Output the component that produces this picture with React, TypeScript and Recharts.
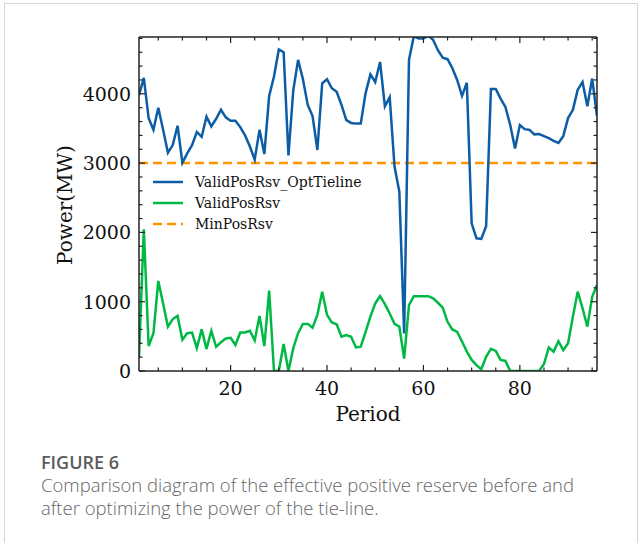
import { Line, LineChart, ReferenceLine, XAxis, YAxis } from "recharts";

// 15-minute periods of one day
const periods = Array.from({ length: 96 }, (_, i) => i + 1);

// effective positive reserve after optimizing the tie-line power (MW)
const validPosRsvOptTieline = [
  3980, 4230, 3650, 3480, 3800, 3480, 3150, 3260, 3540, 3005,
  3140, 3260, 3450, 3380, 3670, 3530, 3640, 3770, 3660, 3610,
  3610, 3520, 3400, 3240, 3050, 3480, 3130, 3970, 4250, 4640,
  4600, 3110, 4050, 4490, 4210, 3840, 3680, 3190, 4150, 4210,
  4080, 4030, 3840, 3620, 3580, 3570, 3570, 4010, 4280, 4170,
  4460, 3820, 3950, 2950, 2590, 540, 4490, 4830, 4800, 4800,
  4840, 4780, 4630, 4520, 4500, 4370, 4200, 3970, 4160, 2130,
  1915, 1905, 2090, 4070, 4070, 3930, 3810, 3550, 3210, 3550,
  3490, 3480, 3415, 3420, 3390, 3360, 3320, 3290, 3390, 3650,
  3770, 4060, 4170, 3820, 4220, 3680,
];

// effective positive reserve before optimization (MW)
const validPosRsv = [
  200, 2045, 360, 545, 1300, 975, 640, 750, 795, 450,
  545, 555, 330, 600, 320, 580, 350, 415, 470, 480,
  375, 555, 555, 580, 440, 795, 360, 1160, 0, 0,
  390, 0, 330, 545, 680, 680, 625, 810, 1145, 810,
  700, 675, 495, 520, 495, 340, 350, 565, 785, 975,
  1080, 965, 830, 680, 640, 180, 950, 1080, 1080, 1080,
  1080, 1050, 985, 915, 710, 600, 565, 425, 280, 160,
  85, 25, 205, 320, 290, 160, 145, 0, 0, 0,
  0, 0, 0, 0, 100, 340, 280, 430, 300, 400,
  785, 1145, 905, 640, 1070, 1240,
];

const MIN_POS_RSV = 3000;

const xTicks = [5, 10, 15, 20, 25, 30, 35, 40, 45, 50, 55, 60, 65, 70, 75, 80, 85, 90, 95];
const yTicks = Array.from({ length: 25 }, (_, i) => i * 200);

const data = periods.map((p, i) => ({
  period: p,
  opt: validPosRsvOptTieline[i],
  valid: validPosRsv[i],
}));

const BLUE = "#0C5DA5";
const GREEN = "#00B945";
const ORANGE = "#FF9500";
const AXIS = "#222";
const SERIF = "'DejaVu Serif', serif";

const legendRows = [
  { name: "ValidPosRsv_OptTieline", color: BLUE, dashed: false },
  { name: "ValidPosRsv", color: GREEN, dashed: false },
  { name: "MinPosRsv", color: ORANGE, dashed: true },
];

type Side = "bottom" | "top" | "left" | "right";

// inward major/minor ticks, labels only on bottom and left
function makeTick(side: Side, isMajor: (v: number) => boolean) {
  return (props: any) => {
    const { x, y, payload } = props;
    const v = payload.value as number;
    const major = isMajor(v);
    const len = major ? 6 : 3.5;
    let x2 = x;
    let y2 = y;
    if (side === "bottom") y2 = y - len;
    if (side === "top") y2 = y + len;
    if (side === "left") x2 = x + len;
    if (side === "right") x2 = x - len;
    return (
      <g>
        <line x1={x} y1={y} x2={x2} y2={y2} stroke={AXIS} strokeWidth={1.2} />
        {major && side === "bottom" && (
          <text x={x} y={y + 24} textAnchor="middle" fontSize={19} fontFamily={SERIF} fill="#111">
            {v}
          </text>
        )}
        {major && side === "left" && (
          <text x={x - 8} y={y} dy="0.36em" textAnchor="end" fontSize={19} fontFamily={SERIF} fill="#111">
            {v}
          </text>
        )}
      </g>
    );
  };
}

const xMajor = (v: number) => v % 20 === 0;
const yMajor = (v: number) => v % 1000 === 0;

const axisCommon = {
  type: "number" as const,
  interval: 0 as const,
  tickSize: 0,
  tickMargin: 0,
  stroke: AXIS,
  strokeWidth: 1.5,
  allowDataOverflow: true,
};

export default function App() {
  return (
    <div
      style={{
        position: "absolute",
        left: 0,
        top: 0,
        width: 641,
        height: 543,
        background: "#fff",
        overflow: "hidden",
      }}
    >
      <div
        style={{
          position: "absolute",
          left: 4,
          top: 3,
          width: 632,
          height: 560,
          border: "1px solid #d6d6d6",
        }}
      />
      <LineChart
        width={641}
        height={543}
        data={data}
        margin={{ top: 36, left: 138, right: 43, bottom: 171 }}
      >
        <XAxis
          {...axisCommon}
          xAxisId="b"
          dataKey="period"
          domain={[1, 96]}
          ticks={xTicks}
          height={1}
          tick={makeTick("bottom", xMajor)}
        />
        <XAxis
          {...axisCommon}
          xAxisId="t"
          orientation="top"
          dataKey="period"
          domain={[1, 96]}
          ticks={xTicks}
          height={1}
          tick={makeTick("top", xMajor)}
        />
        <YAxis
          {...axisCommon}
          yAxisId="l"
          domain={[0, 4820]}
          ticks={yTicks}
          width={1}
          tick={makeTick("left", yMajor)}
        />
        <YAxis
          {...axisCommon}
          yAxisId="r"
          orientation="right"
          domain={[0, 4820]}
          ticks={yTicks}
          width={1}
          tick={makeTick("right", yMajor)}
        />
        <ReferenceLine
          xAxisId="b"
          yAxisId="l"
          y={MIN_POS_RSV}
          stroke={ORANGE}
          strokeWidth={2.5}
          strokeDasharray="9 5"
        />
        <Line
          xAxisId="b"
          yAxisId="l"
          dataKey="opt"
          stroke={BLUE}
          strokeWidth={2.5}
          dot={false}
          isAnimationActive={false}
        />
        <Line
          xAxisId="b"
          yAxisId="l"
          dataKey="valid"
          stroke={GREEN}
          strokeWidth={2.5}
          dot={false}
          isAnimationActive={false}
        />
      </LineChart>

      {/* legend */}
      <div style={{ position: "absolute", left: 152, top: 172, fontFamily: SERIF, fontSize: 14, color: "#111" }}>
        {legendRows.map((r) => (
          <div key={r.name} style={{ display: "flex", alignItems: "center", height: 20.7 }}>
            <svg width={32} height={6} style={{ marginRight: 11 }}>
              <line
                x1={1}
                y1={3}
                x2={31}
                y2={3}
                stroke={r.color}
                strokeWidth={2.5}
                strokeDasharray={r.dashed ? "9 5" : undefined}
              />
            </svg>
            <span>{r.name}</span>
          </div>
        ))}
      </div>

      {/* axis titles */}
      <div
        style={{
          position: "absolute",
          left: 368,
          top: 414,
          transform: "translate(-50%, -50%)",
          fontFamily: SERIF,
          fontSize: 20,
          color: "#111",
          whiteSpace: "nowrap",
        }}
      >
        Period
      </div>
      <div
        style={{
          position: "absolute",
          left: 65,
          top: 205,
          transform: "translate(-50%, -50%) rotate(-90deg)",
          fontFamily: SERIF,
          fontSize: 20,
          color: "#111",
          whiteSpace: "nowrap",
        }}
      >
        Power(MW)
      </div>

      {/* caption */}
      <div
        style={{
          position: "absolute",
          left: 41,
          top: 452,
          fontFamily: "'Open Sans', sans-serif",
          fontSize: 18,
          fontWeight: 600,
          lineHeight: "20px",
          color: "#5c5c5c",
        }}
      >
        FIGURE 6
      </div>
      <div
        style={{
          position: "absolute",
          left: 41,
          top: 473,
          width: 560,
          fontFamily: "'Open Sans', sans-serif",
          fontSize: 18.5,
          fontWeight: 300,
          lineHeight: "23px",
          color: "#666",
        }}
      >
        Comparison diagram of the effective positive reserve before and after optimizing the power of the tie-line.
      </div>
    </div>
  );
}
